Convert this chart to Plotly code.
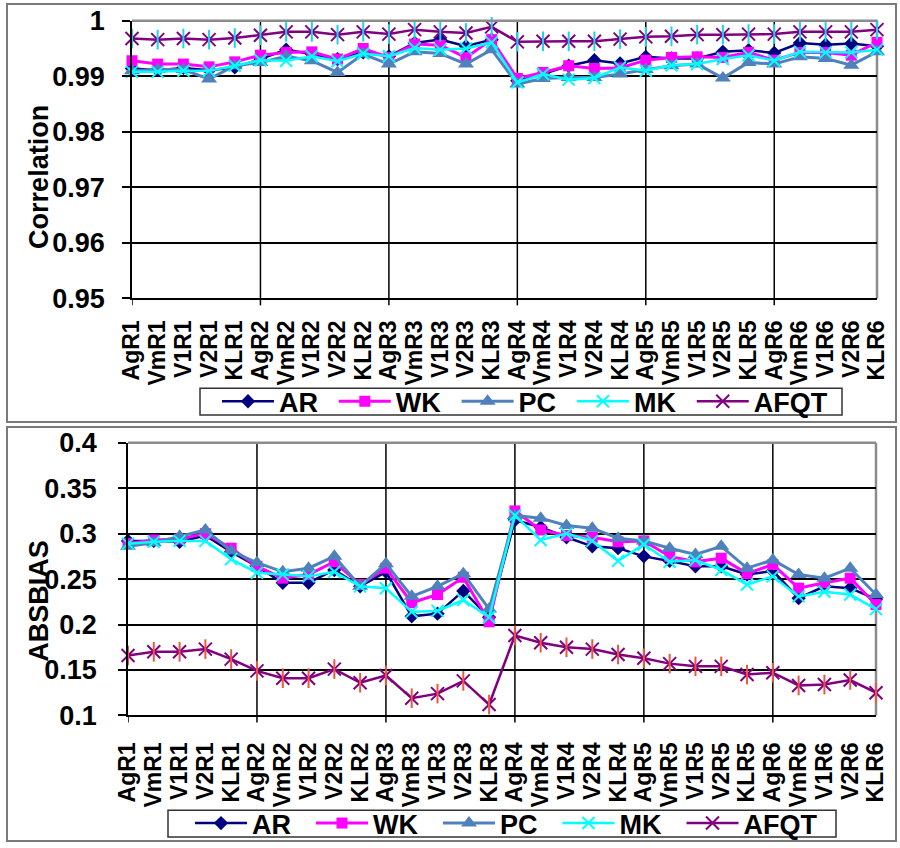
import plotly.graph_objects as go

# Categories on the x axis
categories = ["AgR1", "VmR1", "V1R1", "V2R1", "KLR1",
              "AgR2", "VmR2", "V1R2", "V2R2", "KLR2",
              "AgR3", "VmR3", "V1R3", "V2R3", "KLR3",
              "AgR4", "VmR4", "V1R4", "V2R4", "KLR4",
              "AgR5", "VmR5", "V1R5", "V2R5", "KLR5",
              "AgR6", "VmR6", "V1R6", "V2R6", "KLR6"]

# Correlation by test
corr_ar = [0.9914, 0.9911, 0.9915, 0.9911, 0.9916, 0.9931, 0.9948, 0.9940, 0.9931, 0.9943,
           0.9936, 0.9960, 0.9966, 0.9954, 0.9966, 0.9892, 0.9904, 0.9919, 0.9929, 0.9923,
           0.9935, 0.9932, 0.9932, 0.9944, 0.9947, 0.9942, 0.9960, 0.9957, 0.9959, 0.9954]
corr_wk = [0.9928, 0.9922, 0.9922, 0.9917, 0.9926, 0.9938, 0.9943, 0.9944, 0.9931, 0.9950,
           0.9934, 0.9958, 0.9956, 0.9934, 0.9966, 0.9896, 0.9907, 0.9919, 0.9914, 0.9915,
           0.9929, 0.9934, 0.9935, 0.9934, 0.9943, 0.9929, 0.9943, 0.9943, 0.9938, 0.9961]
corr_pc = [0.9910, 0.9912, 0.9912, 0.9895, 0.9919, 0.9925, 0.9936, 0.9928, 0.9907, 0.9940,
           0.9922, 0.9944, 0.9941, 0.9922, 0.9948, 0.9886, 0.9896, 0.9898, 0.9898, 0.9904,
           0.9912, 0.9919, 0.9922, 0.9897, 0.9925, 0.9922, 0.9935, 0.9932, 0.9920, 0.9944]
corr_mk = [0.9908, 0.9908, 0.9910, 0.9910, 0.9919, 0.9929, 0.9928, 0.9936, 0.9927, 0.9941,
           0.9936, 0.9951, 0.9948, 0.9950, 0.9961, 0.9889, 0.9904, 0.9894, 0.9897, 0.9916,
           0.9910, 0.9920, 0.9922, 0.9931, 0.9938, 0.9928, 0.9944, 0.9943, 0.9943, 0.9948]
corr_afqt = [0.9968, 0.9966, 0.9968, 0.9966, 0.9969, 0.9974, 0.9980, 0.9980, 0.9975, 0.9980,
             0.9976, 0.9984, 0.9980, 0.9978, 0.9989, 0.9962, 0.9963, 0.9963, 0.9963, 0.9967,
             0.9971, 0.9972, 0.9975, 0.9975, 0.9976, 0.9976, 0.9980, 0.9980, 0.9980, 0.9984]

# Absolute bias by test
bias_ar = [0.292, 0.292, 0.291, 0.298, 0.280, 0.264, 0.246, 0.246, 0.260, 0.242,
           0.258, 0.209, 0.212, 0.237, 0.208, 0.315, 0.307, 0.296, 0.286, 0.284,
           0.275, 0.270, 0.264, 0.264, 0.255, 0.259, 0.229, 0.242, 0.240, 0.228]
bias_wk = [0.289, 0.293, 0.294, 0.300, 0.284, 0.264, 0.251, 0.255, 0.269, 0.244,
           0.262, 0.224, 0.233, 0.252, 0.203, 0.325, 0.304, 0.298, 0.296, 0.291,
           0.292, 0.275, 0.269, 0.273, 0.256, 0.266, 0.240, 0.246, 0.251, 0.222]
bias_pc = [0.286, 0.290, 0.297, 0.304, 0.281, 0.268, 0.258, 0.262, 0.275, 0.242,
           0.267, 0.231, 0.242, 0.256, 0.217, 0.320, 0.317, 0.309, 0.306, 0.295,
           0.292, 0.284, 0.277, 0.286, 0.262, 0.271, 0.255, 0.251, 0.262, 0.233]
bias_mk = [0.289, 0.291, 0.292, 0.292, 0.272, 0.257, 0.255, 0.253, 0.258, 0.242,
           0.240, 0.214, 0.215, 0.227, 0.208, 0.320, 0.293, 0.300, 0.292, 0.270,
           0.288, 0.269, 0.271, 0.260, 0.244, 0.253, 0.231, 0.236, 0.233, 0.217]
bias_afqt = [0.166, 0.170, 0.170, 0.173, 0.162, 0.149, 0.141, 0.141, 0.151, 0.136,
             0.144, 0.119, 0.124, 0.138, 0.112, 0.188, 0.180, 0.175, 0.173, 0.167,
             0.163, 0.157, 0.154, 0.154, 0.145, 0.147, 0.133, 0.134, 0.139, 0.125]

series_names = ["AR", "WK", "PC", "MK", "AFQT"]
group_ticks = [0, 5, 10, 15, 20, 25]

FONT = "Liberation Sans, Arial, sans-serif"
W, H = 900, 848

styles = {
    "AR":   dict(color="#000080", symbol="diamond", size=11, lw=2.5),
    "WK":   dict(color="#FF00FF", symbol="square", size=11, lw=3),
    "PC":   dict(color="#4F81BD", symbol="triangle-up", size=14, lw=3),
    "MK":   dict(color="#00FFFF", symbol="x-thin-open", size=12, lw=2.5),
    "AFQT": dict(color="#800080", symbol="x-thin-open", size=13, lw=2.5),
}

xs = list(range(len(categories)))
fig = go.Figure()


def add_panel(values, xa, ya, legend_name, pad):
    for k, (name, vals) in enumerate(zip(series_names, values)):
        st = styles[name]
        open_sym = st["symbol"].endswith("open")
        label = name if k == len(series_names) - 1 else name + pad
        fig.add_trace(go.Scatter(
            x=xs, y=vals, name=label, mode="lines+markers",
            xaxis=xa, yaxis=ya, legend=legend_name, legendgroup=legend_name + name,
            line=dict(color=st["color"], width=st["lw"]),
            marker=dict(symbol=st["symbol"], size=st["size"], color=st["color"],
                        line=dict(color=st["color"], width=2 if open_sym else 0)),
            cliponaxis=False,
        ))
        if name == "AFQT":
            # vertical stroke completes the six-pointed star marker
            fig.add_trace(go.Scatter(
                x=xs, y=vals, mode="markers", xaxis=xa, yaxis=ya,
                legend=legend_name, legendgroup=legend_name + name, showlegend=False,
                marker=dict(symbol="line-ns-open", size=st["size"] + 1,
                            line=dict(color=st["color"], width=2)),
                cliponaxis=False, hoverinfo="skip",
            ))


add_panel([corr_ar, corr_wk, corr_pc, corr_mk, corr_afqt], "x", "y", "legend",
          "\u2009\u2009")
add_panel([bias_ar, bias_wk, bias_pc, bias_mk, bias_afqt], "x2", "y2", "legend2",
          "\u00a0\u00a0")


def px_x(p):
    return p / W


def px_y(p):
    return 1 - p / H


top_box = (132, 877, 21, 302)   # left, right, top, bottom in pixels
bot_box = (128, 876, 448, 724)

tickfont = dict(family=FONT, size=27, color="black", weight="bold")
catfont = dict(family=FONT, size=23, color="black", weight="bold")
legfont = dict(family=FONT, size=27, color="black", weight="bold")


def x_axis(box, standoff, anchor):
    return dict(domain=[px_x(box[0]), px_x(box[1])], anchor=anchor,
                range=[0, len(categories) - 1], tickmode="array", tickvals=xs,
                ticktext=categories, tickangle=-90, tickfont=catfont,
                showgrid=False, ticks="", showline=True, linecolor="black", linewidth=1.5,
                zeroline=False, automargin=False, ticklabelstandoff=standoff)


def y_axis(box, rng, step, standoff, anchor):
    return dict(domain=[px_y(box[3]), px_y(box[2])], anchor=anchor, range=rng,
                dtick=step, tick0=rng[0], showgrid=True, gridcolor="black", gridwidth=1.5,
                ticks="outside", ticklen=8, tickcolor="black", tickwidth=1.5, showline=True,
                linecolor="black", linewidth=1.5, zeroline=False, tickfont=tickfont,
                ticklabelstandoff=standoff, automargin=False)


fig.update_layout(
    width=W, height=H, autosize=False,
    margin=dict(l=0, r=0, t=0, b=0),
    paper_bgcolor="white", plot_bgcolor="white",
    showlegend=True,
    xaxis=x_axis(top_box, 11, "y"),
    yaxis=y_axis(top_box, [0.95, 1], 0.01, 12, "x"),
    xaxis2=x_axis(bot_box, 16, "y2"),
    yaxis2=y_axis(bot_box, [0.1, 0.4], 0.05, 16, "x2"),
    legend=dict(orientation="h", x=px_x(217), y=px_y(406.5), xanchor="left", yanchor="middle",
                bgcolor="rgba(0,0,0,0)", borderwidth=0, font=legfont,
                itemwidth=52, tracegroupgap=0, itemclick=False),
    legend2=dict(orientation="h", x=px_x(190), y=px_y(833.5), xanchor="left", yanchor="middle",
                 bgcolor="rgba(0,0,0,0)", borderwidth=0, font=legfont,
                 itemwidth=52, tracegroupgap=0, itemclick=False),
)

# Panel frames
frame = dict(type="rect", xref="paper", yref="paper", line=dict(color="#7a7a7a", width=2),
             fillcolor="rgba(0,0,0,0)", layer="below")
fig.add_shape(x0=px_x(7), x1=px_x(896), y0=px_y(427), y1=px_y(4), **frame)
fig.add_shape(x0=px_x(7), x1=px_x(896), y0=px_y(851), y1=px_y(432), **frame)

# Legend boxes
legbox = dict(type="rect", xref="paper", yref="paper", line=dict(color="#333333", width=1.5),
              fillcolor="white", layer="above")
fig.add_shape(x0=px_x(200), x1=px_x(842), y0=px_y(420), y1=px_y(393), **legbox)
fig.add_shape(x0=px_x(168), x1=px_x(836), y0=px_y(847), y1=px_y(820), **legbox)

# Group separators: vertical grid lines and outside tick marks every five categories
for xr, (l, r, t, b) in [("x", top_box), ("x2", bot_box)]:
    for g in group_ticks:
        if g > 0:
            fig.add_shape(type="line", xref=xr, yref="paper", x0=g, x1=g,
                          y0=px_y(b), y1=px_y(t), line=dict(color="black", width=1.5),
                          layer="below")
        fig.add_shape(type="line", xref=xr, yref="paper", x0=g, x1=g,
                      y0=px_y(b + 7), y1=px_y(b), line=dict(color="black", width=1.5),
                      layer="below")
    # grey top and right edges of the plotting area
    fig.add_shape(type="line", xref="paper", yref="paper",
                  x0=px_x(l), x1=px_x(r), y0=px_y(t), y1=px_y(t),
                  line=dict(color="#8c8c8c", width=2.5), layer="above")
    fig.add_shape(type="line", xref="paper", yref="paper",
                  x0=px_x(r), x1=px_x(r), y0=px_y(b), y1=px_y(t),
                  line=dict(color="#8c8c8c", width=2.5), layer="below")

# Axis titles
title_font = dict(family=FONT, size=27, color="black", weight="bold")
fig.add_annotation(text="Correlation", xref="paper", yref="paper", x=px_x(39), y=px_y(179),
                   xanchor="center", yanchor="middle",
                   textangle=-90, showarrow=False, font=title_font)
fig.add_annotation(text="ABSBIAS", xref="paper", yref="paper", x=px_x(39), y=px_y(608),
                   xanchor="center", yanchor="middle",
                   textangle=-90, showarrow=False, font=title_font)

fig.write_html("out.html")
